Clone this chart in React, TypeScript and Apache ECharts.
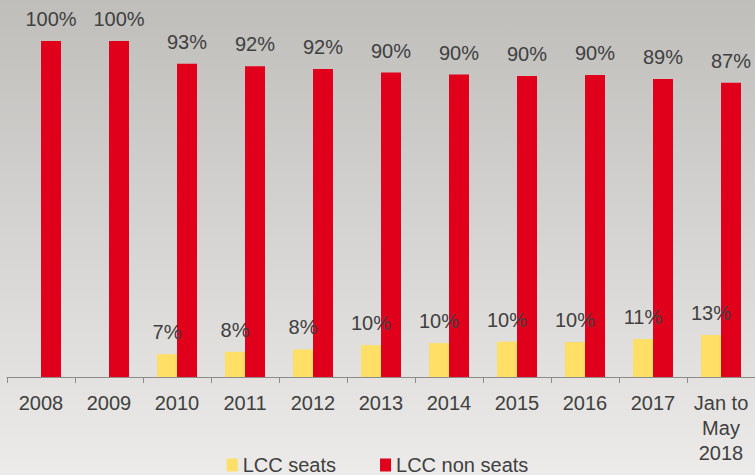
import React, { useEffect, useRef } from "react";
import * as echarts from "echarts";

const categories = ["2008", "2009", "2010", "2011", "2012", "2013", "2014", "2015", "2016", "2017", "Jan to\nMay\n2018"];
const lccSeats: (number | null)[] = [null, null, 6.8, 7.5, 8.2, 9.5, 10.1, 10.5, 10.4, 11.3, 12.5];
const lccNonSeats = [100, 100, 93.2, 92.5, 91.7, 90.6, 90.0, 89.6, 89.9, 88.7, 87.6];
const lccSeatsLabels = ["", "", "7%", "8%", "8%", "10%", "10%", "10%", "10%", "11%", "13%"];
const lccNonSeatsLabels = ["100%", "100%", "93%", "92%", "92%", "90%", "90%", "90%", "90%", "89%", "87%"];

const FONT = "'Liberation Sans', Arial, sans-serif";

export default function App() {
  const ref = useRef<HTMLDivElement>(null);
  useEffect(() => {
    if (!ref.current) return;
    const chart = echarts.init(ref.current, null, { renderer: "svg" });
    const labelStyle = {
      show: true,
      position: "top" as const,
      distance: 12,
      color: "#404040",
      fontSize: 20,
      fontFamily: FONT,
    };
    chart.setOption({
      animation: false,
      backgroundColor: "transparent",
      grid: { left: 7, width: 751, top: 41, height: 336, containLabel: false },
      legend: {
        top: 450,
        left: "center",
        itemWidth: 11,
        itemHeight: 13,
        itemGap: 44,
        icon: "rect",
        textStyle: { color: "#404040", fontSize: 20, fontFamily: FONT },
        data: ["LCC seats", "LCC non seats"],
      },
      xAxis: {
        type: "category",
        data: categories,
        axisLine: { lineStyle: { color: "#8c8c8c", width: 1 } },
        axisTick: { show: true, length: 6, lineStyle: { color: "#8c8c8c" } },
        axisLabel: {
          color: "#404040",
          fontSize: 20,
          fontFamily: FONT,
          margin: 13,
          lineHeight: 25,
          interval: 0,
        },
      },
      yAxis: { type: "value", min: 0, max: 100, show: false, splitLine: { show: false } },
      series: [
        {
          name: "LCC seats",
          type: "bar",
          data: lccSeats,
          barWidth: 20,
          barGap: "0%",
          itemStyle: { color: "#ffdf66" },
          label: { ...labelStyle, formatter: (p: any) => lccSeatsLabels[p.dataIndex] },
        },
        {
          name: "LCC non seats",
          type: "bar",
          data: lccNonSeats,
          barWidth: 20,
          barGap: "0%",
          itemStyle: { color: "#e0001b" },
          label: { ...labelStyle, formatter: (p: any) => lccNonSeatsLabels[p.dataIndex] },
        },
      ],
    });
    return () => chart.dispose();
  }, []);
  return (
    <div
      style={{
        position: "fixed",
        left: 0,
        top: 0,
        width: 755,
        height: 475,
        background: "linear-gradient(#bfbebb, #ecebe9)",
      }}
    >
      <div ref={ref} style={{ width: 755, height: 475 }} />
    </div>
  );
}
